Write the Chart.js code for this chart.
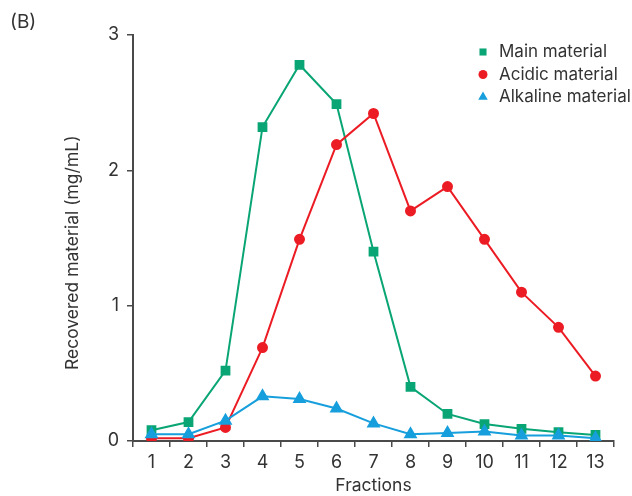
<!DOCTYPE html>
<html>
<head>
<meta charset="utf-8">
<script src="https://cdn.jsdelivr.net/npm/chart.js@4.4.0/dist/chart.umd.min.js"></script>
<style>
  html, body { margin: 0; padding: 0; background: #fff; }
  #wrap { position: relative; width: 632px; height: 496px; }
  #panel { position: absolute; left: 10px; top: 10px; font: 19px Inter, sans-serif; color: #333; }
</style>
</head>
<body>
<div id="wrap">
  <canvas id="chart" width="632" height="496"></canvas>
  <div id="panel">(B)</div>
</div>
<script>
// Data
const fractions = ['1', '2', '3', '4', '5', '6', '7', '8', '9', '10', '11', '12', '13'];
const mainMaterial = [0.08, 0.14, 0.52, 2.32, 2.78, 2.49, 1.40, 0.40, 0.20, 0.125, 0.09, 0.065, 0.045];
const acidicMaterial = [0.02, 0.02, 0.10, 0.69, 1.49, 2.19, 2.42, 1.70, 1.88, 1.49, 1.10, 0.84, 0.48];
const alkalineMaterial = [0.05, 0.05, 0.15, 0.33, 0.31, 0.24, 0.13, 0.05, 0.06, 0.07, 0.04, 0.04, 0.02];
const yTicks = [0, 1, 2, 3];

const GREEN = '#0aa574';
const RED = '#ec1c24';
const BLUE = '#169fdc';
const AXIS = '#4a4a4a';
const FONT = 'Inter, sans-serif';

// Small vertical legend in the top-right corner
const cornerLegend = {
  id: 'cornerLegend',
  afterDraw(chart) {
    const ctx = chart.ctx;
    const x0 = 483, y0 = 52, rowGap = 22.5;
    ctx.save();
    ctx.font = '17px ' + FONT;
    ctx.textBaseline = 'middle';
    chart.data.datasets.forEach((ds, i) => {
      const y = y0 + i * rowGap;
      ctx.fillStyle = ds.pointBackgroundColor;
      ctx.strokeStyle = ds.pointBackgroundColor;
      ctx.lineWidth = 1;
      Chart.helpers.drawPoint(ctx, { pointStyle: ds.pointStyle, radius: ds.legendRadius, borderWidth: 0 }, x0, y);
      ctx.fillStyle = '#333';
      ctx.fillText(ds.label, x0 + 16, y);
    });
    ctx.restore();
  }
};

new Chart(document.getElementById('chart'), {
  type: 'line',
  data: {
    labels: fractions,
    datasets: [
      {
        label: 'Main material',
        data: mainMaterial,
        borderColor: GREEN,
        pointBackgroundColor: GREEN,
        pointBorderColor: GREEN,
        pointStyle: 'rect',
        pointRadius: 5.5,
        legendRadius: 5,
        borderWidth: 2,
        tension: 0,
        order: 3
      },
      {
        label: 'Acidic material',
        data: acidicMaterial,
        borderColor: RED,
        pointBackgroundColor: RED,
        pointBorderColor: RED,
        pointStyle: 'circle',
        pointRadius: 4.5,
        legendRadius: 4.5,
        borderWidth: 2,
        tension: 0,
        order: 2
      },
      {
        label: 'Alkaline material',
        data: alkalineMaterial,
        borderColor: BLUE,
        pointBackgroundColor: BLUE,
        pointBorderColor: BLUE,
        pointStyle: 'triangle',
        pointRadius: 6,
        legendRadius: 5.5,
        borderWidth: 2,
        tension: 0,
        order: 1
      }
    ]
  },
  options: {
    responsive: false,
    animation: false,
    layout: { padding: { left: 60, right: 18, top: 35, bottom: 0 } },
    plugins: {
      legend: { display: false },
      tooltip: { enabled: false }
    },
    scales: {
      x: {
        offset: true,
        grid: {
          offset: true,
          drawOnChartArea: false,
          drawTicks: true,
          tickLength: 6,
          color: AXIS,
          lineWidth: 1.5
        },
        border: { display: true, color: AXIS, width: 2 },
        ticks: { color: '#333', font: { family: FONT, size: 18 }, padding: 5, maxRotation: 0, autoSkip: false },
        title: { display: true, text: 'Fractions', color: '#333', font: { family: FONT, size: 17.5 }, padding: { top: 2, bottom: 0 } },
        afterFit(scale) { scale.height = 55; }
      },
      y: {
        min: 0,
        max: 3,
        afterBuildTicks(scale) { scale.ticks = yTicks.map(v => ({ value: v })); },
        grid: {
          drawOnChartArea: false,
          drawTicks: true,
          tickLength: 6,
          color: AXIS,
          lineWidth: 1.5
        },
        border: { display: true, color: AXIS, width: 2 },
        ticks: { color: '#333', font: { family: FONT, size: 18 }, padding: 8 },
        title: { display: true, text: 'Recovered material (mg/mL)      ', color: '#333', font: { family: FONT, size: 17.5 }, padding: { top: 2, bottom: 0 } },
        afterFit(scale) { scale.width = 73; }
      }
    }
  },
  plugins: [cornerLegend]
});
</script>
</body>
</html>
